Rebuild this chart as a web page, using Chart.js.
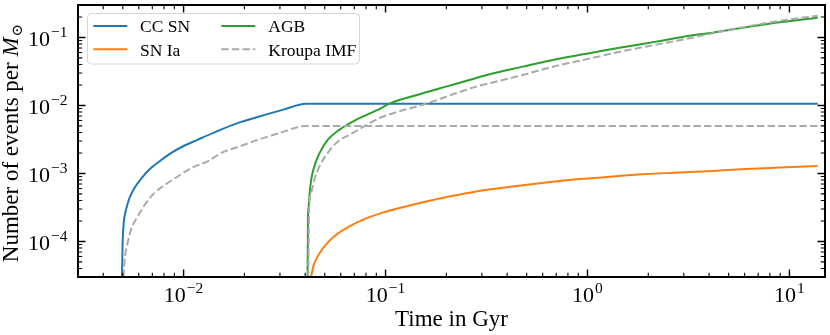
<!DOCTYPE html>
<html>
<head>
<meta charset="utf-8">
<script src="https://cdn.jsdelivr.net/npm/chart.js@4/dist/chart.umd.min.js"></script>
<style>
  html, body { margin: 0; padding: 0; background: #ffffff; }
  #wrap { position: relative; width: 830px; height: 335px; overflow: hidden; background: #ffffff; }
  #c { position: absolute; left: 0; top: 0; }
  #legend { position: absolute; left: 0; top: 0; pointer-events: none; }
</style>
</head>
<body>
<div id="wrap">
  <canvas id="c" width="830" height="335"></canvas>
  <svg id="legend" width="830" height="335" xmlns="http://www.w3.org/2000/svg"></svg>
</div>
<script>
// ---------------- data ----------------
const ccsnTime  = [0.00495, 0.00499, 0.00505, 0.00518, 0.00538, 0.00570, 0.00627, 0.00689, 0.00758, 0.00866, 0.00989, 0.0117, 0.0145, 0.0185, 0.0237, 0.0309, 0.0404, 13.8];
const ccsnValue = [3.0e-5, 9.5e-5, 1.86e-4, 2.87e-4, 4.24e-4, 6.05e-4, 8.93e-4, 1.20e-3, 1.50e-3, 1.99e-3, 2.49e-3, 3.12e-3, 4.13e-3, 5.49e-3, 6.86e-3, 8.61e-3, 0.0106, 0.0106];

const snIaTime  = [0.0428, 0.0439, 0.0461, 0.0498, 0.0558, 0.0662, 0.0770, 0.0950, 0.126, 0.159, 0.207, 0.281, 0.426, 0.623, 0.912, 1.33, 1.95, 2.85, 4.17, 6.10, 8.92, 13.8];
const snIaValue = [3.0e-5, 4.30e-5, 6.03e-5, 8.45e-5, 1.19e-4, 1.66e-4, 2.08e-4, 2.61e-4, 3.27e-4, 3.87e-4, 4.58e-4, 5.43e-4, 6.43e-4, 7.36e-4, 8.26e-4, 9.02e-4, 9.78e-4, 1.03e-3, 1.09e-3, 1.16e-3, 1.22e-3, 1.29e-3];

const agbTime  = [0.0411, 0.0413, 0.0416, 0.0424, 0.0432, 0.0452, 0.0474, 0.0517, 0.0590, 0.0714, 0.0914, 0.106, 0.153, 0.199, 0.260, 0.327, 0.478, 0.699, 1.02, 1.49, 2.19, 3.20, 4.17, 6.10, 8.92, 13.8];
const agbValue = [3.0e-5, 2.08e-4, 3.27e-4, 6.43e-4, 9.30e-4, 1.49e-3, 2.06e-3, 3.12e-3, 4.38e-3, 6.14e-3, 8.61e-3, 0.0108, 0.0151, 0.0189, 0.0237, 0.0288, 0.0372, 0.0479, 0.0586, 0.0718, 0.0868, 0.1063, 0.1176, 0.1413, 0.1672, 0.1954];

const kroupaCcTime  = [0.00503, 0.00513, 0.00528, 0.00549, 0.00592, 0.00651, 0.00716, 0.00787, 0.00934, 0.0109, 0.0134, 0.0153, 0.0189, 0.0233, 0.0298, 0.0404, 13.8];
const kroupaCcValue = [3.0e-5, 6.0e-5, 9.5e-5, 1.49e-4, 2.33e-4, 3.67e-4, 5.14e-4, 6.43e-4, 9.0e-4, 1.20e-3, 1.55e-3, 1.99e-3, 2.49e-3, 3.12e-3, 3.92e-3, 5.0e-3, 5.0e-3];

const kroupaAgbTime  = [0.0414, 0.0419, 0.0428, 0.0444, 0.0470, 0.0517, 0.0568, 0.0687, 0.0932, 0.117, 0.162, 0.223, 0.281, 0.327, 0.478, 0.699, 1.02, 1.49, 2.19, 3.20, 4.17, 6.10, 8.92, 13.8];
const kroupaAgbValue = [3.0e-5, 3.27e-4, 5.14e-4, 8.06e-4, 1.26e-3, 1.99e-3, 2.79e-3, 3.92e-3, 6.50e-3, 8.18e-3, 0.0108, 0.0151, 0.0189, 0.0212, 0.0281, 0.0382, 0.0488, 0.0627, 0.0784, 0.0973, 0.1153, 0.1441, 0.1748, 0.209];

const seriesLabels = ['CC SN', 'SN Ia', 'AGB', 'Kroupa IMF'];

const xTickValues    = [0.01, 0.1, 1, 10];
const xTickExponents = ['\u22122', '\u22121', '0', '1'];
const yTickValues    = [1e-4, 1e-3, 1e-2, 1e-1];
const yTickExponents = ['\u22124', '\u22123', '\u22122', '\u22121'];

const xTitle = 'Time in Gyr';
const yTitleMain = 'Number of events per ';
const yTitleVar = 'M';
const yTitleSub = '\u2299';

// ---------------- styles ----------------
const COLORS = { cc: '#1f77b4', ia: '#ff7f0e', agb: '#2ca02c', kroupa: '#aaaaaa' };
const DASH = [7.4, 3.2];
const FONT = '"Liberation Serif", "Times New Roman", serif';

function pts(t, v) { return t.map((x, i) => ({ x: x, y: v[i] })); }

const common = { pointRadius: 0, borderWidth: 2, fill: false, cubicInterpolationMode: 'monotone', clip: 0 };

const datasets = [
  Object.assign({ label: seriesLabels[3], data: pts(kroupaCcTime, kroupaCcValue), borderColor: COLORS.kroupa, borderDash: DASH, order: 0 }, common),
  Object.assign({ label: seriesLabels[3] + ' (AGB)', data: pts(kroupaAgbTime, kroupaAgbValue), borderColor: COLORS.kroupa, borderDash: DASH, order: 0 }, common),
  Object.assign({ label: seriesLabels[2], data: pts(agbTime, agbValue), borderColor: COLORS.agb, order: 1 }, common),
  Object.assign({ label: seriesLabels[1], data: pts(snIaTime, snIaValue), borderColor: COLORS.ia, order: 2 }, common),
  Object.assign({ label: seriesLabels[0], data: pts(ccsnTime, ccsnValue), borderColor: COLORS.cc, order: 3 }, common)
];

function logTicks(min, max) {
  const out = [];
  for (let d = Math.floor(Math.log10(min)) - 1; d <= Math.ceil(Math.log10(max)); d++) {
    for (let k = 1; k <= 9; k++) {
      const v = k * Math.pow(10, d);
      if (v >= min * 0.9999 && v <= max * 1.0001) out.push({ v: v, major: k === 1 });
    }
  }
  return out;
}

const framePlugin = {
  id: 'framePlugin',
  afterDatasetsDraw(chart) {
    const ctx = chart.ctx;
    const a = chart.chartArea;
    const xs = chart.scales.x, ys = chart.scales.y;
    ctx.save();
    ctx.strokeStyle = '#000';
    for (const t of logTicks(xs.min, xs.max)) {
      const px = xs.getPixelForValue(t.v);
      const len = t.major ? 7.5 : 4.2;
      ctx.lineWidth = t.major ? 1.4 : 1.1;
      ctx.beginPath();
      ctx.moveTo(px, a.bottom); ctx.lineTo(px, a.bottom - len);
      ctx.moveTo(px, a.top); ctx.lineTo(px, a.top + len);
      ctx.stroke();
    }
    for (const t of logTicks(ys.min, ys.max)) {
      const py = ys.getPixelForValue(t.v);
      const len = t.major ? 7.5 : 4.2;
      ctx.lineWidth = t.major ? 1.4 : 1.1;
      ctx.beginPath();
      ctx.moveTo(a.left, py); ctx.lineTo(a.left + len, py);
      ctx.moveTo(a.right, py); ctx.lineTo(a.right - len, py);
      ctx.stroke();
    }
    ctx.lineWidth = 2;
    ctx.strokeRect(a.left, a.top, a.right - a.left, a.bottom - a.top);

    ctx.fillStyle = '#000';
    ctx.textBaseline = 'alphabetic';
    ctx.textAlign = 'left';
    const baseFont = '22px ' + FONT;
    const expFont = '15.5px ' + FONT;
    xTickValues.forEach((v, i) => {
      const px = xs.getPixelForValue(v);
      ctx.font = baseFont; const w1 = ctx.measureText('10').width;
      ctx.font = expFont; const w2 = ctx.measureText(xTickExponents[i]).width;
      const total = w1 + 1 + w2;
      const x0 = px - total / 2;
      ctx.font = baseFont; ctx.fillText('10', x0, a.bottom + 24.5);
      ctx.font = expFont; ctx.fillText(xTickExponents[i], x0 + w1 + 1, a.bottom + 15.5);
    });
    yTickValues.forEach((v, i) => {
      const py = ys.getPixelForValue(v);
      ctx.font = baseFont; const w1 = ctx.measureText('10').width;
      ctx.font = expFont; const w2 = ctx.measureText(yTickExponents[i]).width;
      const total = w1 + 1 + w2;
      const x0 = a.left - 10.5 - total;
      ctx.font = baseFont; ctx.fillText('10', x0, py + 8.5);
      ctx.font = expFont; ctx.fillText(yTickExponents[i], x0 + w1 + 1, py - 0.7);
    });

    ctx.font = '23px ' + FONT;
    ctx.textAlign = 'center';
    ctx.fillText(xTitle, (a.left + a.right) / 2, 325.5);

    ctx.save();
    ctx.translate(18, (a.top + a.bottom) / 2 + 2);
    ctx.rotate(-Math.PI / 2);
    ctx.textAlign = 'left';
    ctx.font = '23px ' + FONT; const m1 = ctx.measureText(yTitleMain).width;
    ctx.font = 'italic 23px ' + FONT; const m2 = ctx.measureText(yTitleVar).width;
    ctx.font = '15px "DejaVu Serif", ' + FONT; const m3 = ctx.measureText(yTitleSub).width;
    const tot = m1 + m2 + 1 + m3;
    let xx = -tot / 2;
    ctx.font = '23px ' + FONT; ctx.fillText(yTitleMain, xx, 0); xx += m1;
    ctx.font = 'italic 23px ' + FONT; ctx.fillText(yTitleVar, xx, 0); xx += m2 + 1;
    ctx.font = '15px "DejaVu Serif", ' + FONT; ctx.fillText(yTitleSub, xx, 4);
    ctx.restore();

    ctx.restore();
  }
};

new Chart(document.getElementById('c'), {
  type: 'line',
  data: { datasets: datasets },
  options: {
    responsive: false,
    animation: false,
    events: [],
    layout: { padding: { top: 5, right: 5, left: 0, bottom: 0 } },
    plugins: { legend: { display: false }, tooltip: { enabled: false } },
    scales: {
      x: {
        type: 'logarithmic', min: 0.003, max: 15,
        grid: { display: false }, border: { display: false },
        ticks: { display: false },
        afterFit(s) { s.height = 58; }
      },
      y: {
        type: 'logarithmic', min: 3e-5, max: 0.3,
        grid: { display: false }, border: { display: false },
        ticks: { display: false },
        afterFit(s) { s.width = 78; }
      }
    }
  },
  plugins: [framePlugin]
});

(function buildLegend() {
  const svg = document.getElementById('legend');
  const NS = 'http://www.w3.org/2000/svg';
  function el(name, attrs, text) {
    const e = document.createElementNS(NS, name);
    for (const k in attrs) e.setAttribute(k, attrs[k]);
    if (text !== undefined) e.textContent = text;
    svg.appendChild(e);
    return e;
  }
  el('rect', { x: 87.5, y: 13.5, width: 272, height: 50.5, rx: 4, ry: 4,
    fill: '#ffffff', 'fill-opacity': 0.8, stroke: '#cccccc', 'stroke-opacity': 0.8, 'stroke-width': 1 });
  const entries = [
    { label: seriesLabels[0], color: COLORS.cc, dash: null, col: 0, row: 0 },
    { label: seriesLabels[1], color: COLORS.ia, dash: null, col: 0, row: 1 },
    { label: seriesLabels[2], color: COLORS.agb, dash: null, col: 1, row: 0 },
    { label: seriesLabels[3], color: COLORS.kroupa, dash: DASH, col: 1, row: 1 }
  ];
  const colLine = [[93.3, 127.3], [221.3, 255.3]];
  const colText = [140, 268.3];
  const rowLineY = [26, 49.3];
  const rowTextY = [32.4, 55.8];
  entries.forEach(e => {
    const attrs = { x1: colLine[e.col][0], x2: colLine[e.col][1], y1: rowLineY[e.row], y2: rowLineY[e.row],
      stroke: e.color, 'stroke-width': 2 };
    if (e.dash) attrs['stroke-dasharray'] = e.dash.join(' ');
    el('line', attrs);
    el('text', { x: colText[e.col], y: rowTextY[e.row], 'font-family': 'Liberation Serif, Times New Roman, serif',
      'font-size': '17.5px', fill: '#000' }, e.label);
  });
})();
</script>
</body>
</html>
